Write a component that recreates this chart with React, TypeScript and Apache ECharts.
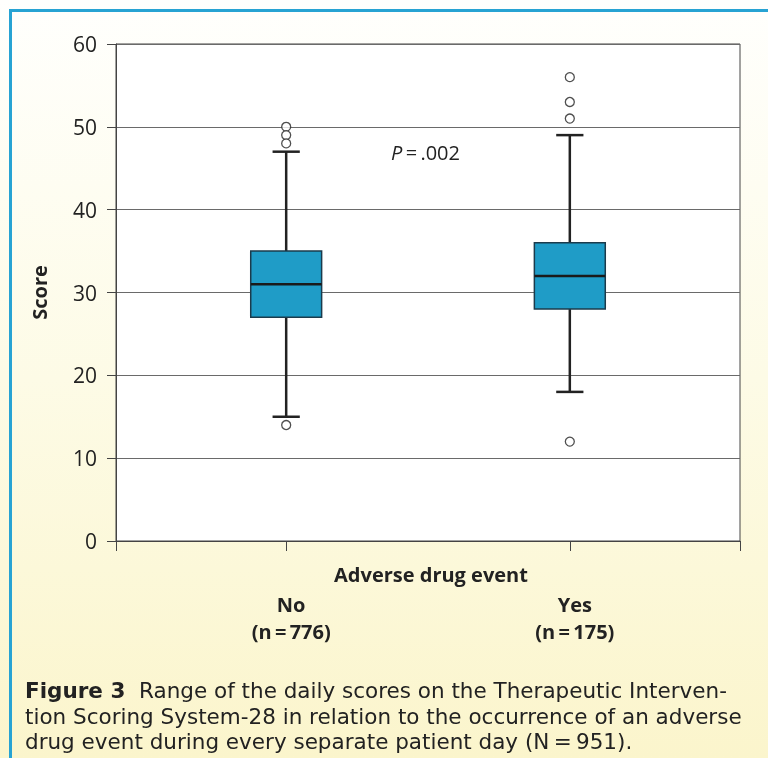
import React, { useEffect, useRef } from "react";
import * as echarts from "echarts";

const categories = ["No", "Yes"];
const counts = [776, 175];
// [lower whisker, Q1, median, Q3, upper whisker]
const boxValues = [
  [15, 27, 31, 35, 47],
  [18, 28, 32, 36, 49],
];
const outlierValues = [
  [50, 49, 48, 14],
  [56, 53, 51, 12],
];
const yTicks = [0, 10, 20, 30, 40, 50, 60];
const xAxisTitle = "Adverse drug event";
const pLabel = ".002";
const captionBold = "Figure 3";
const captionLines = [
  "Range of the daily scores on the Therapeutic Interven-",
  "tion Scoring System-28 in relation to the occurrence of an adverse",
  "drug event during every separate patient day (N\u2009=\u2009951).",
];

const FONT = "'Open Sans', 'Noto Sans', sans-serif";
const CAPTION_FONT = "'DejaVu Sans', 'Open Sans', sans-serif";

export default function App() {
  const ref = useRef<HTMLDivElement>(null);
  useEffect(() => {
    if (!ref.current) return;
    const chart = echarts.init(ref.current, null, { renderer: "svg" });
    const boxData = boxValues.map((b, i) => [i + 1, ...b]);
    const outData: number[][] = [];
    outlierValues.forEach((arr, i) => arr.forEach((v) => outData.push([i + 1, v])));

    const captionY = [690, 716, 741];
    const captionTexts = captionLines.map((line, i) => ({
      type: "text",
      z: 50,
      x: 25,
      y: captionY[i],
      style: {
        text: i === 0 ? `{b|${captionBold}}{r|  ${line}}` : `{r|${line}}`,
        verticalAlign: "middle",
        rich: {
          b: { fontWeight: "bold", fontSize: 21.5, fill: "#222", lineHeight: 24, fontFamily: CAPTION_FONT },
          r: { fontSize: 21.5, fill: "#222", lineHeight: 24, fontFamily: CAPTION_FONT },
        },
      },
    }));

    const option: any = {
      animation: false,
      textStyle: { fontFamily: FONT },
      graphic: [
        {
          type: "rect",
          z: -10,
          silent: true,
          shape: { x: 0, y: 0, width: 768, height: 758 },
          style: {
            fill: new echarts.graphic.LinearGradient(0, 0, 0, 1, [
              { offset: 0, color: "#fffffd" },
              { offset: 0.5, color: "#fdfbe6" },
              { offset: 1, color: "#fbf5cc" },
            ]),
          },
        },
        {
          type: "rect",
          z: 100,
          shape: { x: 9, y: 9, width: 768, height: 3 },
          style: { fill: "#27a3d3" },
        },
        {
          type: "rect",
          z: 100,
          shape: { x: 9, y: 9, width: 3, height: 760 },
          style: { fill: "#27a3d3" },
        },
        {
          type: "text",
          z: 50,
          x: 391,
          y: 152,
          style: {
            text: `{i|P}{n|\u2009=\u2009${pLabel}}`,
            verticalAlign: "middle",
            rich: {
              i: { fontStyle: "italic", fontSize: 20, fill: "#222", fontFamily: FONT },
              n: { fontSize: 20, fill: "#222", fontFamily: FONT },
            },
          },
        },
        {
          type: "text",
          z: 50,
          x: 431,
          y: 574,
          style: {
            text: xAxisTitle,
            align: "center",
            verticalAlign: "middle",
            fontSize: 20,
            fontWeight: "bold",
            fill: "#222",
            fontFamily: FONT,
          },
        },
        ...captionTexts,
      ],
      grid: {
        left: 116,
        right: 28,
        top: 44,
        bottom: 217,
        show: true,
        backgroundColor: "#ffffff",
        borderColor: "#444",
        borderWidth: 1,
      },
      xAxis: {
        type: "value",
        min: 0.4,
        max: 2.6,
        axisLine: { show: true, lineStyle: { color: "#444", width: 1 } },
        axisTick: {
          show: true,
          length: 10,
          customValues: [0.4, 1, 2, 2.6],
          lineStyle: { color: "#444" },
        },
        axisLabel: {
          customValues: [1, 2],
          margin: 50,
          padding: [0, 0, 0, 10],
          formatter: (v: number) => {
            const i = Math.round(v) - 1;
            return `{a|${categories[i]}}\n{a|(n\u2009=\u2009${counts[i]})}`;
          },
          rich: {
            a: { fontSize: 20, fontWeight: "bold", color: "#222", lineHeight: 27, fontFamily: FONT },
          },
        },
        splitLine: { show: false },
      },
      yAxis: {
        type: "value",
        min: 0,
        max: 60,
        interval: 10,
        name: "Score",
        nameLocation: "middle",
        nameGap: 67,
        nameRotate: 90,
        nameTextStyle: { fontSize: 20, fontWeight: "bold", color: "#222", fontFamily: FONT },
        axisLine: { show: true, lineStyle: { color: "#444", width: 1 } },
        axisTick: { show: true, length: 9, lineStyle: { color: "#444" } },
        axisLabel: {
          fontSize: 21,
          color: "#222",
          margin: 19,
          fontFamily: FONT,
          formatter: (v: number) => (yTicks.includes(v) ? String(v) : ""),
        },
        splitLine: { show: true, lineStyle: { color: "#6a6a6a", width: 1 } },
      },
      series: [
        {
          type: "custom",
          z: 5,
          data: boxData,
          encode: { x: 0, y: [1, 2, 3, 4, 5] },
          renderItem: (params: any, api: any) => {
            const x = api.value(0);
            const lo = api.value(1);
            const q1 = api.value(2);
            const med = api.value(3);
            const q3 = api.value(4);
            const hi = api.value(5);
            const halfBox = 0.125;
            const halfCap = 0.048;
            const pL = api.coord([x - halfBox, q3]);
            const pR = api.coord([x + halfBox, q1]);
            const cL = api.coord([x - halfCap, hi])[0];
            const cR = api.coord([x + halfCap, hi])[0];
            const cx = api.coord([x, med])[0];
            const yLo = api.coord([x, lo])[1];
            const yHi = api.coord([x, hi])[1];
            const yQ1 = pR[1];
            const yQ3 = pL[1];
            const yMed = api.coord([x, med])[1];
            const ws = { stroke: "#222", lineWidth: 2.5 };
            return {
              type: "group",
              children: [
                { type: "line", shape: { x1: cx, y1: yHi, x2: cx, y2: yQ3 }, style: ws },
                { type: "line", shape: { x1: cx, y1: yQ1, x2: cx, y2: yLo }, style: ws },
                { type: "line", shape: { x1: cL, y1: yHi, x2: cR, y2: yHi }, style: ws },
                { type: "line", shape: { x1: cL, y1: yLo, x2: cR, y2: yLo }, style: ws },
                {
                  type: "rect",
                  shape: { x: pL[0], y: yQ3, width: pR[0] - pL[0], height: yQ1 - yQ3 },
                  style: { fill: "#1f9cc7", stroke: "#1b3b4c", lineWidth: 1.5 },
                },
                {
                  type: "line",
                  shape: { x1: pL[0], y1: yMed, x2: pR[0], y2: yMed },
                  style: { stroke: "#1a1a1a", lineWidth: 2.5 },
                },
              ],
            };
          },
        },
        {
          type: "scatter",
          z: 6,
          data: outData,
          symbol: "circle",
          symbolSize: 9,
          itemStyle: { color: "#ffffff", borderColor: "#222", borderWidth: 1.3 },
        },
      ],
    };
    chart.setOption(option);
    return () => chart.dispose();
  }, []);
  return (
    <div
      ref={ref}
      style={{ position: "fixed", left: 0, top: 0, width: 768, height: 758 }}
    />
  );
}
